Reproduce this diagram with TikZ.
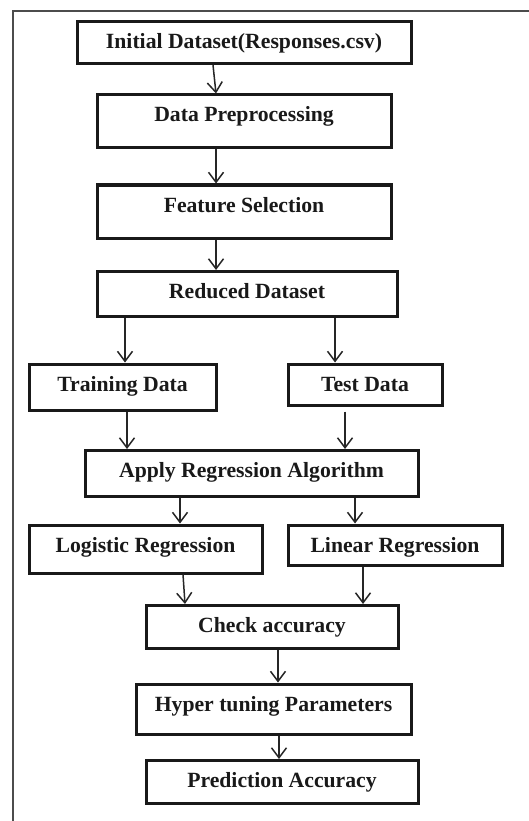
\documentclass[tikz,border=0pt]{standalone}
\usepackage{fontspec}
\setmainfont{Liberation Serif}
\usetikzlibrary{positioning, arrows.meta}

\begin{document}
\begin{tikzpicture}[
        x=1pt, y=-1pt,
        stepbox/.style={draw=black!90, line width=3pt, inner sep=0pt, anchor=base,
            font=\fontsize{21.7}{26}\selectfont\bfseries, text=black!90, text height=27pt},
        flow/.style={-{Straight Barb[length=10pt, width=15pt]}, color=black!85, line width=1.5pt},
        frame/.style={color=black!70, line width=2pt}
        ]
        \useasboundingbox (0,0) rectangle (529,821);

        % Outer frame (top and left only)
        \draw[frame] (13,821) -- (13,11) -- (529,11);

        % Data preparation
        \node[stepbox, minimum width=334pt, text depth=15pt] (init) at (244,48.5) {Initial Dataset(Responses.csv)};
        \node[stepbox, minimum width=294pt, text depth=26pt] (prep) at (244,122) {Data Preprocessing};
        \node[stepbox, minimum width=294pt, text depth=26pt] (feat) at (244,212) {Feature Selection};
        \node[stepbox, minimum width=300pt, text depth=18pt] (red) at (247,298.5) {Reduced Dataset};

        % Split
        \node[stepbox, minimum width=187pt, text depth=19pt] (train) at (122.5,391) {Training Data};
        \node[stepbox, minimum width=154pt, text depth=14pt] (test) at (365,391) {Test Data};
        \node[stepbox, minimum width=333pt, text depth=19pt] (apply) at (251.5,477.5) {Apply Regression Algorithm};

        % Models
        \node[stepbox, minimum width=233pt, text depth=21pt] (logit) at (145.5,552) {Logistic Regression};
        \node[stepbox, minimum width=214pt, text depth=13pt] (linreg) at (395,552) {Linear Regression};

        % Evaluation
        \node[stepbox, minimum width=252pt, text depth=16pt] (check) at (272,632.5) {Check accuracy};
        \node[stepbox, minimum width=275pt, text depth=23pt] (hyper) at (273.5,711) {Hyper tuning Parameters};
        \node[stepbox, minimum width=272pt, text depth=16pt] (pred) at (282,787.5) {Prediction Accuracy};

        % Connections
        \draw[flow] ([xshift=-31pt]init.south) -- ([xshift=-28pt]prep.north);
        \draw[flow] ([xshift=-28pt]prep.south) -- ([xshift=-28pt]feat.north);
        \draw[flow] ([xshift=-28pt]feat.south) -- ([xshift=-31pt]red.north);
        \draw[flow] ([xshift=-122pt]red.south) -- ([xshift=2.5pt]train.north);
        \draw[flow] ([xshift=88pt]red.south) -- ([xshift=-30pt]test.north);
        \draw[flow] ([xshift=4.5pt]train.south) -- ([xshift=-124.5pt]apply.north);
        \draw[flow] ([xshift=-20pt,yshift=-5pt]test.south) -- ([xshift=93.5pt]apply.north);
        \draw[flow] ([xshift=-71.5pt]apply.south) -- ([xshift=34.5pt]logit.north);
        \draw[flow] ([xshift=103.5pt]apply.south) -- ([xshift=-40pt]linreg.north);
        \draw[flow] ([xshift=37.5pt]logit.south) -- ([xshift=-87pt]check.north);
        \draw[flow] ([xshift=-32pt]linreg.south) -- ([xshift=91pt]check.north);
        \draw[flow] ([xshift=6pt]check.south) -- ([xshift=4.5pt]hyper.north);
        \draw[flow] ([xshift=5.5pt]hyper.south) -- ([xshift=-3pt]pred.north);

    \end{tikzpicture}
\end{document}
